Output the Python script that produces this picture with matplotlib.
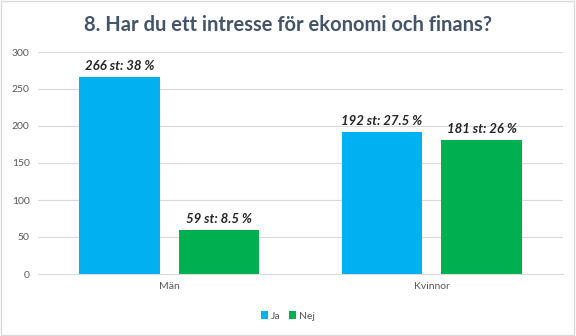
import matplotlib.pyplot as plt
import numpy as np

plt.rcParams['font.family'] = ['Lato', 'DejaVu Sans']

categories = ['Män', 'Kvinnor']
ja = [266, 192]
nej = [59, 181]
ja_labels = ['266 st: 38 %', '192 st: 27.5 %']
nej_labels = ['59 st: 8.5 %', '181 st: 26 %']

fig = plt.figure(figsize=(5.76, 3.36), dpi=100)
ax = fig.add_axes([38/576, 1-274/336, 525/576, 222/336])

x = np.arange(len(categories))
w = 0.307
off = 0.19
b1 = ax.bar(x - off, ja, w, color='#00B0F0', label='Ja')
b2 = ax.bar(x + off, nej, w, color='#00B050', label='Nej')

for bars, labels in ((b1, ja_labels), (b2, nej_labels)):
    for b, t in zip(bars, labels):
        ax.text(b.get_x() + b.get_width()/2, b.get_height() + 7, t,
                ha='center', va='bottom', fontsize=9.5, fontweight='bold',
                fontstyle='italic', color='#262626')

ax.set_xlim(-0.5, 1.5)
ax.set_ylim(0, 300)
ax.set_yticks(range(0, 301, 50))
ax.set_xticks(x)
ax.set_xticklabels(categories)
ax.yaxis.grid(True, color='#D9D9D9', linewidth=0.8)
ax.set_axisbelow(True)
for s in ['top', 'right', 'left']:
    ax.spines[s].set_visible(False)
ax.spines['bottom'].set_color('#D9D9D9')
ax.tick_params(axis='both', length=0, labelsize=7.5, labelcolor='#595959', pad=6)

fig.text(0.5, 1-25/336, '8. Har du ett intresse för ekonomi och finans?',
         ha='center', va='center', fontsize=14.5, fontweight='bold', color='#44546A')

fig.legend(loc='center', bbox_to_anchor=(0.5, 1-316/336), ncol=2, frameon=False,
           fontsize=7.5, handlelength=0.7, handleheight=0.7, handletextpad=0.3,
           columnspacing=0.8, labelcolor='#595959')

border = plt.Rectangle((0.002, 0.003), 0.995, 0.994, transform=fig.transFigure,
                       fill=False, edgecolor='#D9D9D9', linewidth=1)
fig.patches.append(border)

fig.savefig('out.png', dpi=100)
plt.close(fig)
